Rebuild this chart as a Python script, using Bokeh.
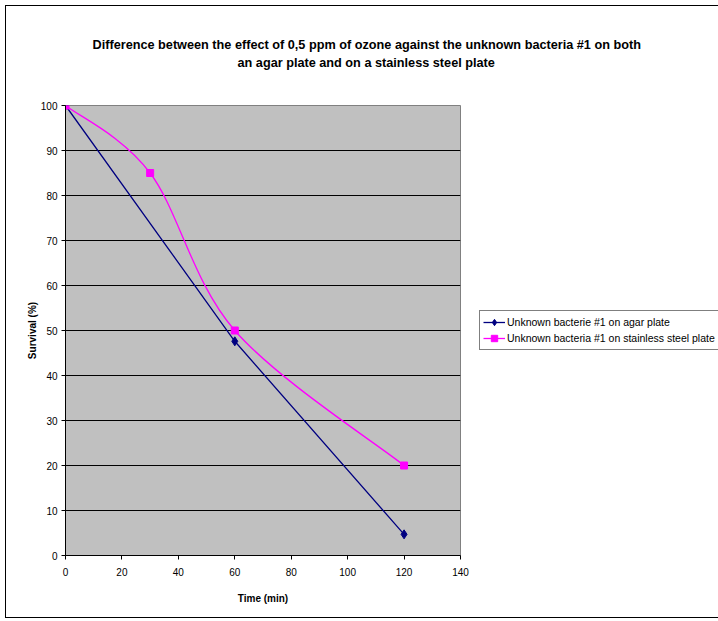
from bokeh.plotting import figure
from bokeh.models import Title, Legend, LegendItem, ColumnDataSource
from bokeh.embed import file_html
from bokeh.resources import INLINE

time_agar = [0, 60, 120]
survival_agar = [100, 47.6, 4.7]
time_steel = [0, 30, 60, 120]
survival_steel = [100, 85, 50, 20]
x_ticks = [0, 20, 40, 60, 80, 100, 120, 140]
y_ticks = [0, 10, 20, 30, 40, 50, 60, 70, 80, 90, 100]
title_lines = ["Difference between the effect of 0,5 ppm of ozone against the unknown bacteria #1 on both",
               "an agar plate and on a stainless steel plate"]
agar_name = "Unknown bacterie #1 on agar plate"
steel_name = "Unknown bacteria #1 on stainless steel plate"

FONT = "Liberation Sans"

p = figure(width=707, height=611, output_backend="svg", toolbar_location=None,
           x_range=(0, 140), y_range=(0, 100),
           min_border_left=59, min_border_top=99, min_border_right=253, min_border_bottom=62,
           frame_width=395, frame_height=450)
p.styles = {"border": "1px solid black", "margin-left": "5px", "margin-top": "5px"}
p.background_fill_color = "#C0C0C0"
p.border_fill_color = "white"
p.outline_line_color = "#808080"

p.xgrid.grid_line_color = None
p.ygrid.grid_line_color = "black"
p.ygrid.ticker = y_ticks
p.xaxis.ticker = x_ticks
p.yaxis.ticker = y_ticks
for ax in (p.xaxis, p.yaxis):
    ax.axis_line_color = "black"
    ax.major_tick_line_color = "black"
    ax.major_tick_in = 0
    ax.major_tick_out = 4
    ax.minor_tick_line_color = None
    ax.major_label_text_font = FONT
    ax.major_label_text_font_size = "10px"
    ax.major_label_text_color = "black"
    ax.axis_label_text_font = FONT
    ax.axis_label_text_font_size = "10px"
    ax.axis_label_text_font_style = "bold"
    ax.axis_label_text_color = "black"
p.xaxis.axis_label = "Time (min)"
p.yaxis.axis_label = "Survival (%)"
p.xaxis.axis_label_standoff = 14
p.yaxis.axis_label_standoff = 0
p.xaxis.major_label_standoff = 8
p.yaxis.major_label_standoff = 4

# agar series: straight line
l1 = p.line(time_agar, survival_agar, line_color="#000080", line_width=1.3)
s1 = p.scatter(time_agar, survival_agar, marker="diamond", size=9, fill_color="#000080", line_color="#000080")

# stainless steel series: smoothed line (Bezier segments through the data points)
n = len(time_steel)
px = [time_steel[0]] + time_steel + [time_steel[-1]]
py = [survival_steel[0]] + survival_steel + [survival_steel[-1]]
x0, y0, x1, y1, cx0, cy0, cx1, cy1 = [], [], [], [], [], [], [], []
for i in range(n - 1):
    a, b = i + 1, i + 2
    x0.append(px[a]); y0.append(py[a]); x1.append(px[b]); y1.append(py[b])
    cx0.append(px[a] + (px[b] - px[a - 1]) / 6.0)
    cy0.append(py[a] + (py[b] - py[a - 1]) / 6.0)
    cx1.append(px[b] - (px[b + 1] - px[a]) / 6.0)
    cy1.append(py[b] - (py[b + 1] - py[a]) / 6.0)
src = ColumnDataSource(dict(x0=x0, y0=y0, x1=x1, y1=y1, cx0=cx0, cy0=cy0, cx1=cx1, cy1=cy1))
b2 = p.bezier(x0="x0", y0="y0", x1="x1", y1="y1", cx0="cx0", cy0="cy0", cx1="cx1", cy1="cy1",
              source=src, line_color="#FF00FF", line_width=1.3)
s2 = p.scatter(time_steel, survival_steel, marker="square", size=7, fill_color="#FF00FF", line_color="#FF00FF")

legend = Legend(items=[LegendItem(label=agar_name, renderers=[l1, s1]),
                       LegendItem(label=steel_name, renderers=[b2, s2])],
                location=(19, 205))
legend.label_text_font = FONT
legend.label_text_font_size = "10.5px"
legend.label_text_color = "black"
legend.border_line_color = "black"
legend.border_line_width = 1
legend.background_fill_color = "white"
legend.background_fill_alpha = 1
legend.padding = 3
legend.spacing = 0
legend.margin = 0
legend.glyph_width = 22
legend.glyph_height = 16
legend.label_height = 16
legend.label_standoff = 2
p.add_layout(legend, "right")

# titles: spacer nearest the frame, then line 2, then line 1
p.add_layout(Title(text=" ", text_font_size="10px", standoff=23), "above")
p.add_layout(Title(text=title_lines[1], text_font=FONT, text_font_size="12.7px", text_font_style="bold",
                   align="left", offset=172, standoff=0, text_color="black"), "above")
p.add_layout(Title(text=title_lines[0], text_font=FONT, text_font_size="12.7px", text_font_style="bold",
                   align="left", offset=27, standoff=4, text_color="black"), "above")

open("out.html", "w").write(file_html(p, INLINE))
